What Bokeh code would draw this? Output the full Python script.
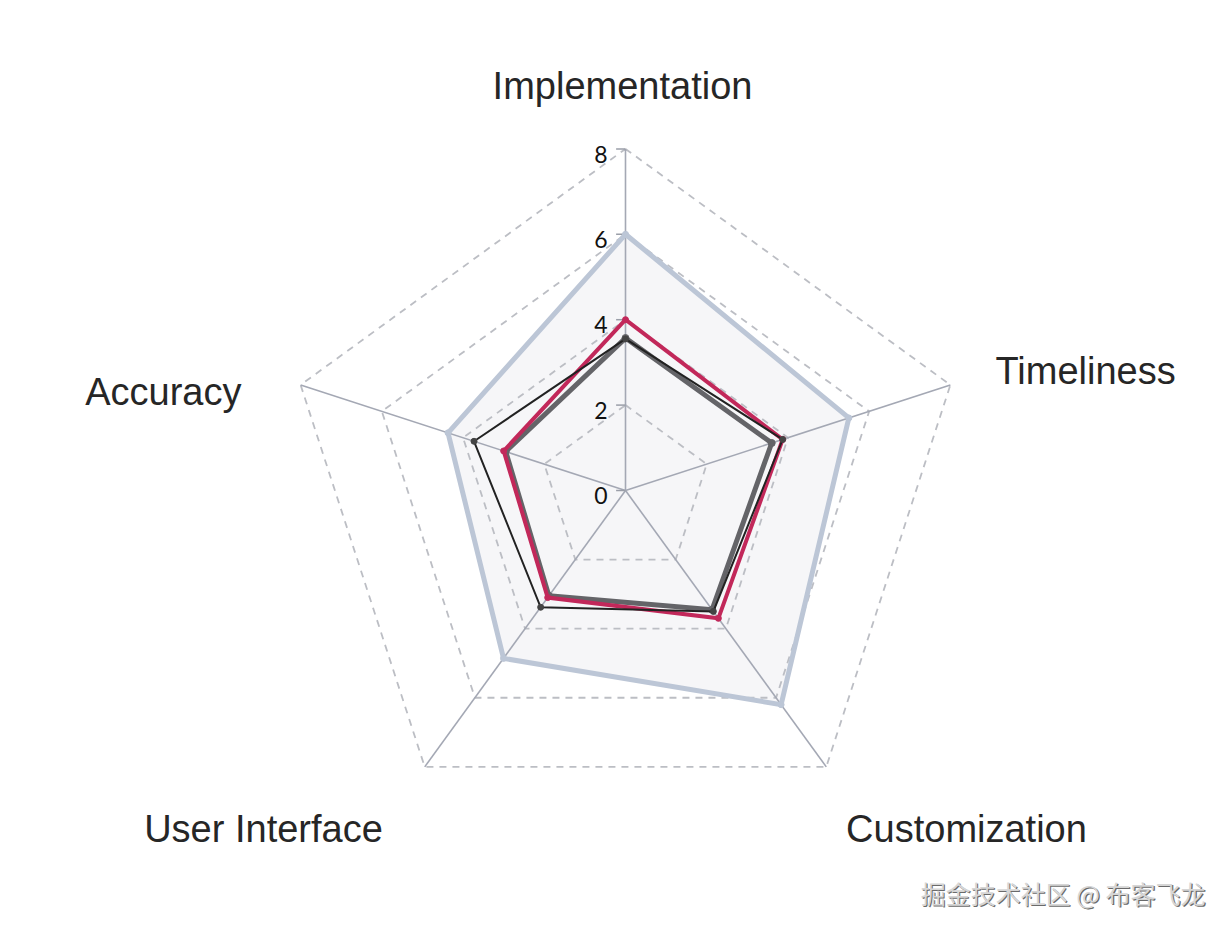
import numpy as np
from bokeh.plotting import figure
from bokeh.models import Range1d
from bokeh.embed import file_html
from bokeh.resources import INLINE
from bokeh.core.properties import value

# ---- data ----
categories = ["Implementation", "Timeliness", "Customization", "User Interface", "Accuracy"]
ring_values = [2, 4, 6, 8]
tick_values = [0, 2, 4, 6, 8]
tick_labels = ["0", "2", "4", "6", "8"]
series_outer = [6.0, 5.5, 6.2, 4.86, 4.37]
series_gray = [3.57, 3.6, 3.45, 3.05, 2.95]
series_red = [4.0, 3.87, 3.7, 3.1, 3.0]
series_black = [3.55, 3.87, 3.5, 3.38, 3.73]
watermark = "掘金技术社区 @ 布客飞龙"

# ---- layout ----
W, H = 1216, 916
PX = 42.7            # pixels per value unit
CX, CY = 625, 490    # centre in figure pixels
RMAX = 8

p = figure(width=W, height=H,
           x_range=Range1d(-CX / PX, (W - CX) / PX),
           y_range=Range1d(-(H - CY) / PX, CY / PX),
           output_backend="svg", toolbar_location=None,
           x_axis_type=None, y_axis_type=None, min_border=0)
p.grid.visible = False
p.outline_line_color = None
p.background_fill_color = "white"
p.border_fill_color = "white"

n = len(categories)
theta = np.deg2rad(90 - 72 * np.arange(n))


def polar(vals):
    v = np.asarray(vals, dtype=float)
    return list(v * np.cos(theta)), list(v * np.sin(theta))


def closed(xs, ys):
    return xs + xs[:1], ys + ys[:1]


# outer series fill first
ox, oy = polar(series_outer)
p.patch(ox, oy, fill_color="#f6f6f8", line_color=None)

# dashed rings
for r in ring_values:
    xs, ys = closed(*polar([r] * n))
    p.line(xs, ys, line_color="#bcbec4", line_width=1.8, line_dash="7 6")

# spokes
for t in theta:
    p.line([0, RMAX * np.cos(t)], [0, RMAX * np.sin(t)], line_color="#a4a8b4", line_width=1.6)

# ticks on top spoke
tick_len = 0.22
p.segment(x0=[-tick_len] * len(tick_values), y0=tick_values,
          x1=[0] * len(tick_values), y1=tick_values,
          line_color="#9a9ea8", line_width=1.5)
p.text(x=[-0.42] * len(tick_values), y=[v - 0.12 for v in tick_values], text=tick_labels,
       text_align="right", text_baseline="middle", text_font=value("Lato"),
       text_font_size="23px", text_color="#111111")

# series
xs, ys = closed(ox, oy)
p.line(xs, ys, line_color="#bcc6d6", line_width=5, line_join="miter")
p.scatter(ox, oy, size=6, color="#bcc6d6")

gx, gy = polar(series_gray)
xs, ys = closed(gx, gy)
p.line(xs, ys, line_color="#646468", line_width=5, line_join="miter")
p.scatter(gx, gy, size=7, color="#646468")

rx, ry = polar(series_red)
xs, ys = closed(rx, ry)
p.line(xs, ys, line_color="#c2285a", line_width=4, line_join="miter")
p.scatter(rx, ry, size=6, color="#c2285a")

bx, by = polar(series_black)
xs, ys = closed(bx, by)
p.line(xs, ys, line_color="#222222", line_width=2, line_join="miter")
p.scatter(bx, by, size=6, color="#444444")

# category labels (anchor offsets in pixels from centre: dx right, dy up)
label_dx = [-3, 370, 341, -362, -384]
label_dy = [405, 120, -338, -338, 99]
label_align = ["center", "left", "center", "center", "right"]
for name, dx, dy, al in zip(categories, label_dx, label_dy, label_align):
    p.text(x=[dx / PX], y=[dy / PX], text=[name], text_align=al,
           text_baseline="alphabetic", text_font=value("Liberation Sans"),
           text_font_size="38px", text_color="#262626")

# watermark
wx, wy = (1205 - 625) / PX, (490 - 892) / PX
p.text(x=[wx + 1.2 / PX], y=[wy - 1.2 / PX], text=[watermark], text_align="right",
       text_baseline="middle", text_font=value("Noto Sans CJK SC"),
       text_font_size="25px", text_color="#6a6a6a")
p.text(x=[wx], y=[wy], text=[watermark], text_align="right",
       text_baseline="middle", text_font=value("Noto Sans CJK SC"),
       text_font_size="25px", text_color="#d6d6d6")

open("out.html", "w").write(file_html(p, INLINE))
